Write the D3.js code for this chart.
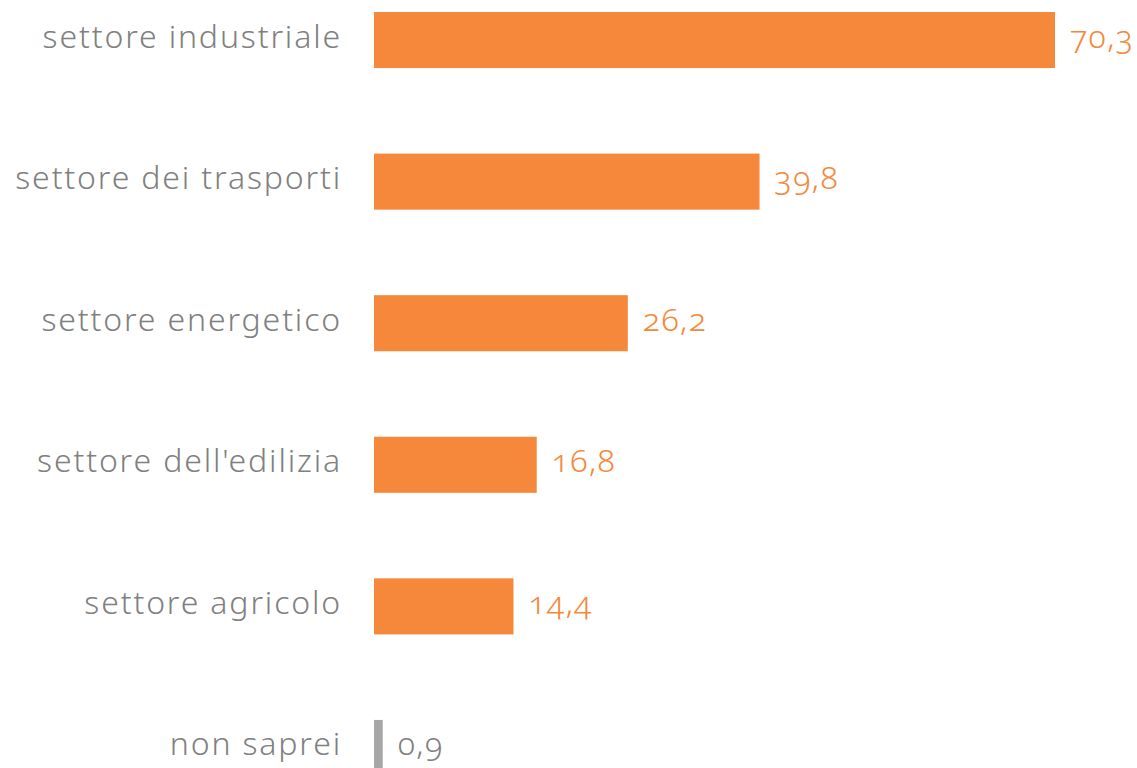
<html>
<head>
<script src="https://cdnjs.cloudflare.com/ajax/libs/d3/7.8.5/d3.min.js"></script>
<style>
  body { margin: 0; background: #fff; }
  .cat { font-family: "Noto Sans", sans-serif; font-weight: 300; font-size: 32px; letter-spacing: 1.85px; fill: #808080; }
  .val { font-family: "Noto Sans", sans-serif; font-weight: 300; font-size: 32px; letter-spacing: 1.4px; font-variant-numeric: oldstyle-nums; }
</style>
</head>
<body>
<svg width="1137" height="768"></svg>
<script>
var categories = ["settore industriale", "settore dei trasporti", "settore energetico",
                  "settore dell'edilizia", "settore agricolo", "non saprei"];
var values = [70.3, 39.8, 26.2, 16.8, 14.4, 0.9];
var barColors = ["#f5883a", "#f5883a", "#f5883a", "#f5883a", "#f5883a", "#a6a6a6"];
var labelColors = ["#f5883a", "#f5883a", "#f5883a", "#f5883a", "#f5883a", "#808080"];

var data = categories.map((c, i) => ({cat: c, value: values[i], bar: barColors[i], lab: labelColors[i]}));

var svg = d3.select("svg");
var x = d3.scaleLinear().domain([0, 70.3]).range([374, 1055]);
// step ~141.6px, bar height ~56px
var y = d3.scaleBand().domain(categories).range([12, 12 + 141.6 * 5 + 56]).paddingInner(0.604).paddingOuter(0);

var fmt = v => d3.format(".1f")(v).replace(".", ",");

svg.selectAll("rect").data(data).enter().append("rect")
  .attr("x", x(0))
  .attr("y", d => y(d.cat))
  .attr("width", d => x(d.value) - x(0))
  .attr("height", y.bandwidth())
  .attr("fill", d => d.bar);

svg.selectAll("text.cat").data(data).enter().append("text")
  .attr("class", "cat")
  .attr("x", 342)
  .attr("y", d => y(d.cat) + y.bandwidth() / 2 + 7.5)
  .attr("text-anchor", "end")
  .text(d => d.cat);

svg.selectAll("text.val").data(data).enter().append("text")
  .attr("class", "val")
  .attr("x", d => x(d.value) + 15)
  .attr("y", d => y(d.cat) + y.bandwidth() / 2 + 7.5)
  .attr("fill", d => d.lab)
  .text(d => fmt(d.value));
</script>
</body>
</html>
